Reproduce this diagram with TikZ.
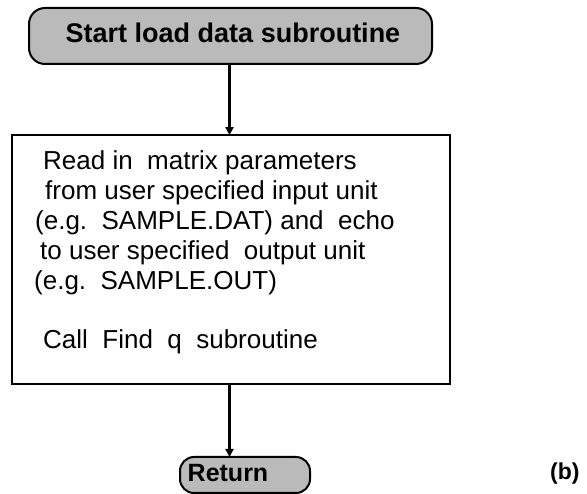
\documentclass[tikz,border=0pt]{standalone}
\usepackage{fontspec}
\setmainfont{Liberation Sans}
\usetikzlibrary{arrows.meta}
\begin{document}
\begin{tikzpicture}[x=1pt,y=-1pt,
  term/.style={draw=black, line width=2pt, fill=black!27, rounded corners=16pt, inner sep=0pt},
  procbox/.style={draw=black, line width=1.8pt, inner sep=0pt},
  termtext/.style={font=\fontsize{27}{30}\selectfont\bfseries, inner sep=0pt, anchor=base},
  bodytext/.style={font=\fontsize{26}{30}\selectfont, inner sep=0pt, anchor=base west},
  flow/.style={line width=3pt, -{Triangle[length=8pt,width=8pt]}, shorten >=-1pt}
]
\useasboundingbox (0,0) rectangle (587,494);

% start terminal
\node[term, minimum width=403pt, minimum height=56pt] (start) at (230.5,36) {};
\node[termtext] (starttext) at (233,43) {Start load data subroutine};

% processing block
\node[procbox, minimum width=438pt, minimum height=249pt] (box) at (231,259.5) {};
\node[bodytext] (l1) at (43,170) {Read in\ \ matrix parameters};
\node[bodytext] (l2) at (45,200) {from user specified input unit};
\node[bodytext] (l3) at (35,230) {(e.g.\ \ SAMPLE.DAT) and\ \ echo};
\node[bodytext] (l4) at (40,260) {to user specified\ \ output unit};
\node[bodytext] (l5) at (34,290) {(e.g.\ \ SAMPLE.OUT)};
\node[bodytext] (l6) at (43,349) {Call\ \ Find\ \ q\ \ subroutine};

% return terminal
\node[term, rounded corners=14pt, minimum width=130pt, minimum height=36pt] (ret) at (245,475) {};
\node[termtext, font=\fontsize{25}{30}\selectfont\bfseries] (rettext) at (228,482) {Return};

% panel label
\node[font=\fontsize{23}{28}\selectfont\bfseries, inner sep=0pt, anchor=base west] (panel) at (550,479) {(b)};

% connectors
\coordinate (axis) at (229.5,0);
\draw[flow] (start.south -| axis) -- (box.north -| axis);
\draw[flow] (box.south -| axis) -- (ret.north -| axis);
\end{tikzpicture}
\end{document}
